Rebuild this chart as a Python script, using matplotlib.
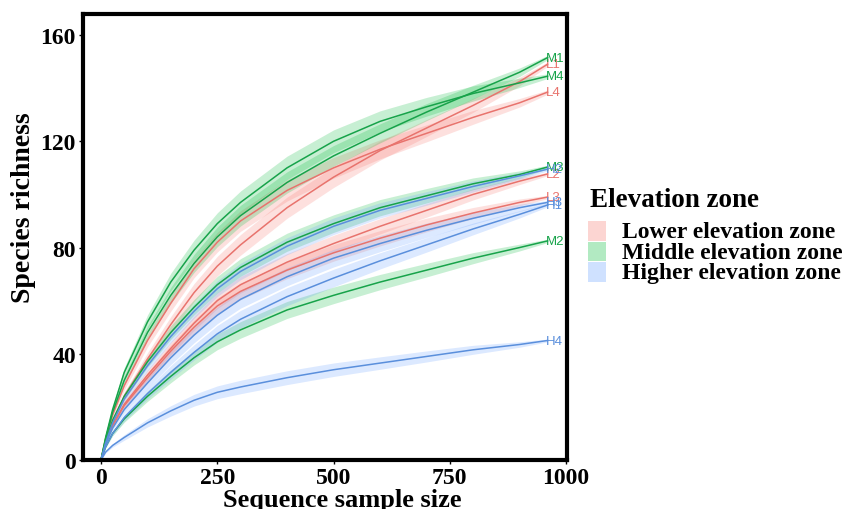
import numpy as np
import matplotlib.pyplot as plt
from matplotlib.patches import Rectangle

# sample sizes where the curves were read
sample_size = [0, 10, 25, 50, 100, 150, 200, 250, 300, 400, 500, 600, 700, 800, 900, 960]

# species richness per site
L1 = [0, 7, 14, 24, 38, 51, 63, 73, 81, 95, 106.5, 116.5, 125, 133.5, 142.5, 149]
L2 = [0, 6.5, 13, 21, 32, 42, 51.5, 60, 66, 74.5, 81.5, 88, 94, 100, 105, 107.7]
L3 = [0, 6.5, 13, 20.5, 31, 41, 50, 58, 63.5, 71.5, 78, 83.5, 88.5, 93, 97, 99]
L4 = [0, 8, 17, 28, 45, 59, 72, 82, 90, 101.5, 110, 117, 123, 129, 134.5, 138.5]
M1 = [0, 8, 18, 30, 48, 62, 74, 84, 92, 104.5, 114.5, 123, 131, 138.5, 146, 151.5]
M2 = [0, 5, 10, 15.5, 24, 31.5, 38.5, 44.5, 49, 56.5, 62, 67, 71.5, 76, 80, 82.5]
M3 = [0, 7, 15, 24, 37, 48, 57.5, 66, 72.5, 82, 89, 95, 99.5, 104, 107.5, 110.3]
M4 = [0, 8.5, 19, 33, 52, 67, 79, 89, 97, 110, 120, 127.5, 133, 138, 142, 144.5]
H1 = [0, 5, 10, 16, 25, 33, 40.5, 47.5, 53, 61.5, 68.5, 75, 81, 87, 92.5, 96]
H2 = [0, 6.5, 14, 23, 35.5, 46.5, 56, 64.5, 71, 80.5, 88, 94, 98.5, 103, 107, 109.5]
H3 = [0, 6, 12, 19, 29, 38.5, 47, 54.5, 60.5, 69, 76, 81.5, 86.5, 91, 95, 97]
H4 = [0, 3, 5.5, 8.5, 14, 18.5, 22.5, 25.5, 27.5, 31, 34, 36.5, 39, 41.5, 43.5, 45]

# confidence band half width (shape) and per-site size
ci_profile = [0, 0.5, 1.0, 1.6, 2.4, 3.0, 3.4, 3.7, 3.9, 4.0, 3.9, 3.6, 3.2, 2.6, 1.6, 0.8]
ci_scale = {'L1': 1.0, 'L2': 0.8, 'L3': 0.8, 'L4': 1.0,
            'M1': 1.0, 'M2': 0.8, 'M3': 0.85, 'M4': 1.1,
            'H1': 0.85, 'H2': 0.8, 'H3': 0.85, 'H4': 0.65}

sites = {'L1': L1, 'L2': L2, 'L3': L3, 'L4': L4,
         'M1': M1, 'M2': M2, 'M3': M3, 'M4': M4,
         'H1': H1, 'H2': H2, 'H3': H3, 'H4': H4}

zone_names = ['Lower elevation zone', 'Middle elevation zone', 'Higher elevation zone']
line_colors = {'L': '#E8736D', 'M': '#17A34A', 'H': '#5A8FDC'}
band_colors = {'L': '#F8766D', 'M': '#00BA38', 'H': '#619CFF'}

serif = ['Liberation Serif', 'DejaVu Serif']
W, H = 854, 510

fig = plt.figure(figsize=(W / 100, H / 100), dpi=100)
ax = fig.add_axes([0.097, 0.096, 0.567, 0.875])

x = np.array(sample_size)
prof = np.array(ci_profile)
for name, vals in sites.items():
    zone = name[0]
    y = np.array(vals)
    hw = prof * ci_scale[name]
    ax.fill_between(x, y - hw, y + hw, color=band_colors[zone], alpha=0.22, lw=0)
for name, vals in sites.items():
    zone = name[0]
    ax.plot(x, vals, color=line_colors[zone], lw=1.1)
    ax.text(x[-1] - 3, vals[-1], name, color=line_colors[zone], fontsize=9.5,
            ha='left', va='center', family=['Liberation Sans', 'DejaVu Sans'])

ax.set_xlim(-39, 1002)
ax.set_ylim(0, 168)
ax.set_xticks([0, 250, 500, 750, 1000])
ax.set_yticks([0, 40, 80, 120, 160])
for sp in ax.spines.values():
    sp.set_linewidth(3)
ax.tick_params(width=1, length=3, pad=2)
for lab in ax.get_xticklabels() + ax.get_yticklabels():
    lab.set_family(serif)
    lab.set_fontweight('bold')
    lab.set_fontsize(17)
ax.set_xlabel('Sequence sample size', family=serif, fontweight='bold', fontsize=19)
ax.set_ylabel('Species richness', family=serif, fontweight='bold', fontsize=20)
ax.xaxis.set_label_coords(0.535, -0.062)
ax.yaxis.set_label_coords(-0.097, 0.567)

# legend drawn by hand so spacing can follow the reference
fig.text(590 / W, 1 - 201 / H, 'Elevation zone', family=serif, fontweight='bold',
         fontsize=19.5, ha='left', va='center')
for i, z in enumerate('LMH'):
    top = 222 + i * 20.5
    fig.patches.append(Rectangle((588 / W, 1 - (top + 19.5) / H), 18 / W, 19.5 / H,
                                 transform=fig.transFigure, facecolor=band_colors[z],
                                 alpha=0.3, edgecolor='none'))
    fig.text(622 / W, 1 - (top + 11) / H, zone_names[i], family=serif, fontweight='bold',
             fontsize=17, ha='left', va='center')

fig.savefig('out.png', dpi=100)
